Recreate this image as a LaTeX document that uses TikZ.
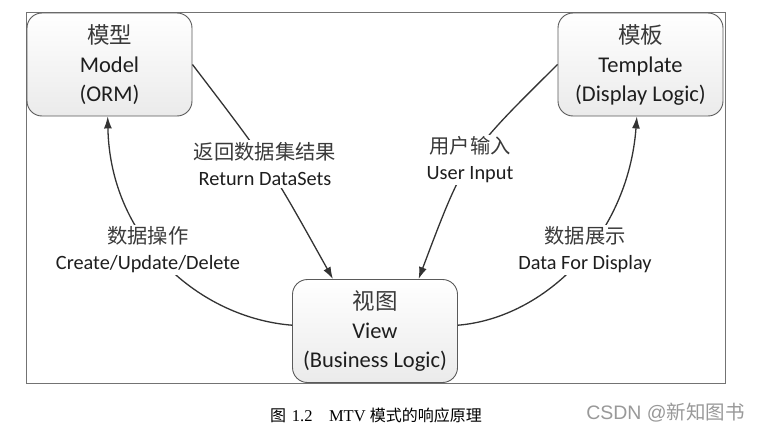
\documentclass[tikz,border=0pt]{standalone}
\usepackage{fontspec}
\setmainfont{Carlito}
\newfontfamily\cjk{Noto Sans CJK SC}
\newfontfamily\capserif{Liberation Serif}
\newfontfamily\wmsans{Liberation Sans}
\usetikzlibrary{arrows.meta}
\definecolor{boxline}{HTML}{5A5A5A}
\definecolor{arrowc}{HTML}{333333}
\definecolor{txt}{HTML}{1E1E1E}
\definecolor{cjktxt}{HTML}{3A3A3A}
\tikzset{
  mvtbox/.style={draw=boxline, line width=0.9pt, rounded corners=15pt,
    top color=white, bottom color=black!8, minimum width=165pt, minimum height=103pt,
    align=center, text=txt, inner sep=0pt, font=\fontsize{22.5}{29}\selectfont},
  flow/.style={draw=arrowc, line width=1.3pt, -{Latex[length=12pt,width=8pt]}},
  lbl/.style={fill=white, align=center, text=txt, inner sep=2pt, font=\fontsize{20.3}{26}\selectfont},
}
\begin{document}
\begin{tikzpicture}[x=1pt,y=-1pt]
\useasboundingbox (0,0) rectangle (761,431);
\fill[white] (0,0) rectangle (761,431);
\draw[black!55, line width=0.8pt] (26,12) rectangle (725,383);

% boxes
\node[mvtbox] (model) at (109.5,64.5) {{\cjk\color{cjktxt}模型}\\Model\\(ORM)};
\node[mvtbox] (template) at (640.5,64.5) {{\cjk\color{cjktxt}模板}\\Template\\(Display Logic)};
\node[mvtbox] (view) at (375,331) {{\cjk\color{cjktxt}视图}\\View\\(Business Logic)};

% connectors
\draw[flow] (model.east) .. controls (270,166) .. (view.129.5);
\draw[flow] (template.west) .. controls (465,156) .. (view.50.5);
\draw[flow] (view.176) .. controls (200,318) and (110,240) .. (model.268);
\draw[flow] (view.4) .. controls (545,318) and (628,236) .. (template.266);

% labels
\node[lbl] (lret) at (265,164) {{\cjk\color{cjktxt}返回数据集结果}\\Return DataSets};
\node[lbl] (lin) at (470,160) {{\cjk\color{cjktxt}用户输入}\\User Input};
\node[lbl] (lcrud) at (148,250) {{\cjk\color{cjktxt}数据操作}\\Create/Update/Delete};
\node[lbl] (ldisp) at (585,250) {{\cjk\color{cjktxt}数据展示}\\Data For Display};

% caption and watermark
\node[text=black, inner sep=0pt] (cap) at (376,415)
  {{\cjk\fontsize{16}{18}\selectfont 图}\,{\capserif\fontsize{16.5}{18}\selectfont\ 1.2\quad MTV }{\cjk\fontsize{16}{18}\selectfont 模式的响应原理}};
\node[text=black!40, inner sep=0pt] (wm) at (665.5,413)
  {{\wmsans\fontsize{19.5}{21}\selectfont CSDN @}{\cjk\fontsize{19.5}{21}\selectfont 新知图书}};
\end{tikzpicture}
\end{document}
